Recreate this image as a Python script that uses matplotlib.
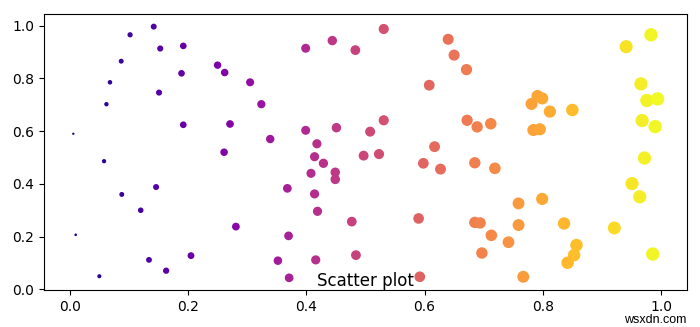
import numpy as np
import matplotlib.pyplot as plt

# points (x, y)
x = [0.142, 0.102, 0.153, 0.192, 0.087, 0.250, 0.189, 0.262, 0.068, 0.151,
     0.062, 0.006, 0.192, 0.271, 0.261, 0.058, 0.146, 0.088, 0.120, 0.010,
     0.281, 0.205, 0.134, 0.163, 0.050,
     0.531, 0.444, 0.399, 0.483, 0.640, 0.650, 0.671, 0.305, 0.608, 0.324,
     0.531, 0.672, 0.399, 0.451, 0.508, 0.339, 0.418, 0.617, 0.414, 0.497,
     0.523, 0.429, 0.598, 0.627, 0.408, 0.449, 0.449, 0.368, 0.414, 0.419,
     0.477, 0.590, 0.370, 0.484, 0.352, 0.416, 0.371, 0.592,
     0.983, 0.941, 0.966, 0.791, 0.799, 0.781, 0.812, 0.850, 0.976, 0.994,
     0.689, 0.712, 0.784, 0.795, 0.968, 0.990, 0.685, 0.719, 0.972, 0.951,
     0.964, 0.759, 0.799, 0.685, 0.694, 0.759, 0.836, 0.921, 0.713, 0.742,
     0.857, 0.853, 0.842, 0.697, 0.986, 0.767]
y = [0.996, 0.965, 0.913, 0.923, 0.865, 0.850, 0.819, 0.822, 0.785, 0.746,
     0.702, 0.590, 0.624, 0.627, 0.520, 0.486, 0.388, 0.360, 0.300, 0.207,
     0.238, 0.128, 0.112, 0.071, 0.050,
     0.987, 0.943, 0.914, 0.907, 0.948, 0.888, 0.833, 0.785, 0.774, 0.702,
     0.641, 0.641, 0.603, 0.613, 0.598, 0.570, 0.552, 0.541, 0.503, 0.507,
     0.513, 0.478, 0.478, 0.456, 0.440, 0.444, 0.417, 0.383, 0.362, 0.296,
     0.257, 0.269, 0.203, 0.130, 0.109, 0.112, 0.044, 0.048,
     0.965, 0.920, 0.779, 0.733, 0.724, 0.703, 0.674, 0.680, 0.716, 0.722,
     0.616, 0.628, 0.604, 0.607, 0.640, 0.617, 0.480, 0.459, 0.498, 0.401,
     0.351, 0.326, 0.343, 0.254, 0.252, 0.244, 0.250, 0.233, 0.205, 0.179,
     0.168, 0.130, 0.101, 0.138, 0.134, 0.048]

x = np.array(x)
y = np.array(y)

fig = plt.figure(figsize=(7, 3.27), dpi=100)
ax = fig.add_axes([0.063, 0.112, 0.918, 0.845])
ax.scatter(x, y, c=x, s=75 * x, cmap='plasma')
ax.text(0.5, 0.017, 'Scatter plot', transform=ax.transAxes,
        ha='center', va='baseline', fontsize=12)
fig.text(0.981, 0.012, 'wsxdn.com', ha='right', va='baseline',
         fontsize=9, family='Liberation Sans')

plt.savefig('out.png')
